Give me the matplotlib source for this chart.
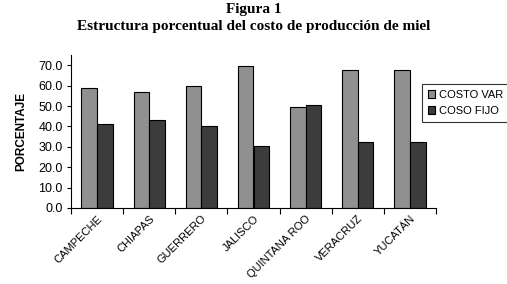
import numpy as np
import matplotlib.pyplot as plt

estados = ['CAMPECHE', 'CHIAPAS', 'GUERRERO', 'JALISCO', 'QUINTANA ROO', 'VERACRUZ', 'YUCATÁN']
costo_var = [59.0, 57.1, 59.8, 69.8, 49.7, 67.6, 67.8]
coso_fijo = [41.0, 42.9, 40.2, 30.2, 50.3, 32.4, 32.2]

fig = plt.figure(figsize=(5.07, 2.84), dpi=100)
ax = fig.add_axes([0.140, 0.268, 0.720, 0.538])

x = np.arange(len(estados))
w = 0.3
ax.bar(x - w / 2, costo_var, w, color='#909090', edgecolor='black', linewidth=0.8, label='COSTO VAR')
ax.bar(x + w / 2, coso_fijo, w, color='#3c3c3c', edgecolor='black', linewidth=0.8, label='COSO FIJO')

ax.set_xlim(-0.5, len(estados) - 0.5)
ax.set_ylim(0, 75)
ax.set_yticks(np.arange(0, 71, 10))
ax.set_yticklabels([f'{v:.1f}' for v in np.arange(0, 71, 10)], fontsize=9, family='Liberation Sans')

# category labels between boundary ticks, like the spreadsheet chart
ax.set_xticks(np.arange(-0.5, len(estados), 1))
ax.set_xticklabels([])
ax.set_xticks(x, minor=True)
ax.set_xticklabels(estados, minor=True, rotation=45, ha='right', va='top',
                   rotation_mode='anchor', fontsize=8, family='Liberation Sans')
ax.tick_params(axis='x', which='minor', length=0, pad=4)
ax.tick_params(axis='x', which='major', length=4, direction='out')
ax.tick_params(axis='y', length=3, direction='out', pad=3)

for s in ['top', 'right']:
    ax.spines[s].set_visible(False)

ax.set_ylabel('PORCENTAJE', fontsize=8.5, fontweight='bold', family='Liberation Sans', labelpad=8)

h, l = ax.get_legend_handles_labels()
leg = fig.legend(h, l, loc='upper left', bbox_to_anchor=(422 / 507, 1 - 84 / 284),
                 prop={'family': 'Liberation Sans', 'size': 8},
                 frameon=True, fancybox=False, edgecolor='black',
                 handlelength=0.7, handleheight=0.7, handletextpad=0.3,
                 borderpad=0.5, labelspacing=0.6, borderaxespad=0)
leg.get_frame().set_linewidth(0.8)

fig.text(0.5, 0.965, 'Figura 1', ha='center', va='center', fontsize=11,
         fontweight='bold', family='Liberation Serif')
fig.text(0.5, 0.905, 'Estructura porcentual del costo de producción de miel', ha='center',
         va='center', fontsize=11, fontweight='bold', family='Liberation Serif')

fig.savefig('out.png', dpi=100)
